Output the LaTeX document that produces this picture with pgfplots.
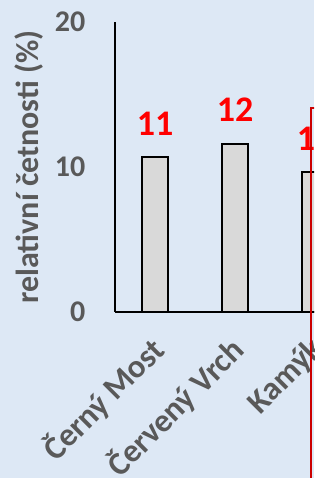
\documentclass[border=0pt]{standalone}
\usepackage{pgfplots}
\pgfplotsset{compat=1.18}
\usepackage{fontspec}
\setmainfont{Carlito}
\definecolor{bg}{HTML}{DDE8F5}
\definecolor{txtgray}{HTML}{595959}
\definecolor{barfill}{HTML}{D9D9D9}
\definecolor{frame}{RGB}{204,0,0}
\begin{document}
\begin{tikzpicture}
\path[use as bounding box] (0pt,0pt) rectangle (235.5pt,358.5pt);
\clip (0pt,0pt) rectangle (235.5pt,358.5pt);
\fill[bg] (0pt,0pt) rectangle (235.5pt,358.5pt);
\begin{axis}[
  at={(86.25pt,124.5pt)}, anchor=south west,
  scale only axis, width=180pt, height=217.5pt,
  xmin=-0.5, xmax=2.5, ymin=0, ymax=20,
  enlargelimits=false, clip=false,
  axis lines=left,
  axis line style={-, line width=1.5pt, black},
  major tick length=0pt,
  ytick={0,10,20},
  xtick={0,1,2},
  xticklabels={Černý Most, Červený Vrch, Kamýk},
  /pgf/number format/assume math mode=true,
  yticklabel style={font=\fontsize{22.5}{27}\selectfont\bfseries, text=txtgray, xshift=-18.75pt},
  xticklabel style={font=\fontsize{24.5}{29}\selectfont\bfseries, text=txtgray, xshift=5pt, yshift=-22pt, rotate=45, anchor=east},
  ylabel={relativní četnosti (\%)},
  ylabel style={font=\fontsize{24}{28}\selectfont\bfseries, text=txtgray, at={(axis description cs:-0.3167,0.5)}, anchor=base},
  ybar, bar width=19.5pt,
  point meta=explicit symbolic,
  nodes near coords,
  every node near coord/.append style={font=\fontsize{27}{31}\selectfont\bfseries, text=red, yshift=12.5pt},
]
\addplot[fill=barfill, draw=black, line width=1.5pt] coordinates {(0,10.67)[11] (1,11.59)[12] (2,9.63)[10]};
\end{axis}
\draw[frame, line width=1.5pt] (233.25pt,-5pt) -- (233.25pt,277.5pt) -- (245pt,277.5pt);
\end{tikzpicture}
\end{document}
